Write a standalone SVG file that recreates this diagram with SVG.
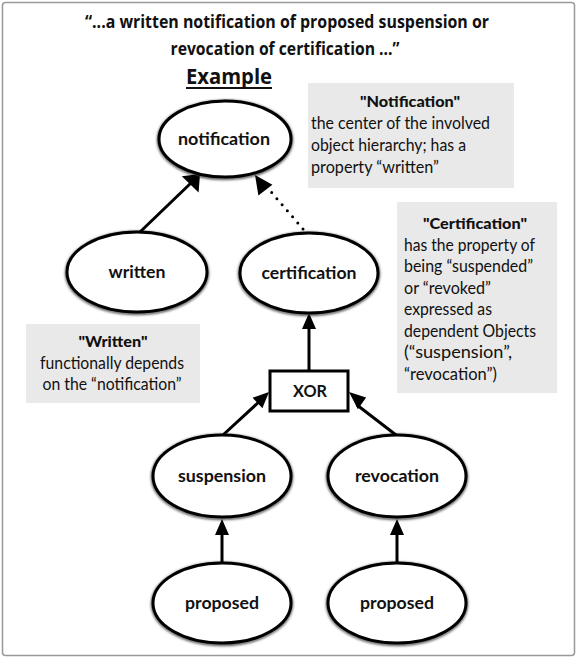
<svg xmlns="http://www.w3.org/2000/svg" width="577" height="658" viewBox="0 0 577 658">
  <style>
    .title { font-family: "Open Sans", "Liberation Sans", sans-serif; font-weight: 700; font-size: 18px; fill: #111; text-anchor: middle; }
    .node ellipse { fill: #fff; stroke: #000; stroke-width: 3; }
    .node rect { fill: #fff; stroke: #000; stroke-width: 3; }
    .label { font-family: "Lato", "Liberation Sans", sans-serif; font-weight: 700; font-size: 17px; fill: #111; text-anchor: middle; }
    .note rect { fill: #e9e9e9; }
    .note-head { font-family: "Lato", "Liberation Sans", sans-serif; font-weight: 900; font-size: 15px; fill: #111; text-anchor: middle; }
    .note-body { font-family: "Lato", "Liberation Sans", sans-serif; font-weight: 400; font-size: 16.5px; fill: #111; }
    .edge { stroke: #000; stroke-width: 3; fill: none; }
    .head { fill: #000; stroke: none; }
    .dotted { stroke-dasharray: 0 8; stroke-linecap: round; }
    .halo { fill: none; stroke: #bcd4ec; stroke-width: 6; }
  </style>
  <defs>
    <filter id="blur" x="-20%" y="-20%" width="140%" height="140%">
      <feGaussianBlur stdDeviation="1.6"/>
    </filter>
  </defs>

  <!-- page frame -->
  <rect x="2.5" y="2.5" width="572" height="653" rx="3" fill="#fff" stroke="#999" stroke-width="1.5"/>

  <!-- heading -->
  <text class="title" x="287" y="28" textLength="404" lengthAdjust="spacingAndGlyphs">“...a written notification of proposed suspension or</text>
  <text class="title" x="285" y="55" textLength="229" lengthAdjust="spacingAndGlyphs">revocation of certification ...”</text>
  <text class="title" x="229" y="84" style="font-size:21px" textLength="86" lengthAdjust="spacingAndGlyphs">Example</text>
  <line x1="186" y1="88" x2="272" y2="88" stroke="#111" stroke-width="2"/>

  <!-- explanatory notes -->
  <g id="note-notification" class="note">
    <rect x="308" y="83" width="206" height="105"/>
    <text class="note-head" x="410" y="107" textLength="100" lengthAdjust="spacingAndGlyphs">"Notification"</text>
    <text class="note-body" x="311" y="129" textLength="179" lengthAdjust="spacingAndGlyphs">the center of the involved</text>
    <text class="note-body" x="311" y="151" textLength="155" lengthAdjust="spacingAndGlyphs">object hierarchy; has a</text>
    <text class="note-body" x="311" y="173" textLength="128" lengthAdjust="spacingAndGlyphs">property “written”</text>
  </g>

  <g id="note-certification" class="note">
    <rect x="397" y="202" width="160" height="191"/>
    <text class="note-head" x="475" y="229" textLength="104" lengthAdjust="spacingAndGlyphs">"Certification"</text>
    <text class="note-body" x="404" y="250.5" textLength="131" lengthAdjust="spacingAndGlyphs">has the property of</text>
    <text class="note-body" x="404" y="272" textLength="129" lengthAdjust="spacingAndGlyphs">being “suspended”</text>
    <text class="note-body" x="404" y="293.5" textLength="87" lengthAdjust="spacingAndGlyphs">or “revoked”</text>
    <text class="note-body" x="404" y="315" textLength="88" lengthAdjust="spacingAndGlyphs">expressed as</text>
    <text class="note-body" x="404" y="336.5" textLength="132" lengthAdjust="spacingAndGlyphs">dependent Objects</text>
    <text class="note-body" x="404" y="358" textLength="108" lengthAdjust="spacingAndGlyphs">(“suspension”,</text>
    <text class="note-body" x="404" y="379.5" textLength="93" lengthAdjust="spacingAndGlyphs">“revocation”)</text>
  </g>

  <g id="note-written" class="note">
    <rect x="26" y="324" width="174" height="79"/>
    <text class="note-head" x="113" y="347" textLength="69" lengthAdjust="spacingAndGlyphs">"Written"</text>
    <text class="note-body" x="112" y="368.5" text-anchor="middle" textLength="144" lengthAdjust="spacingAndGlyphs">functionally depends</text>
    <text class="note-body" x="112" y="390" text-anchor="middle" textLength="139" lengthAdjust="spacingAndGlyphs">on the “notification”</text>
  </g>

  <!-- connectors: shaft plus a filled head whose tip touches the target -->
  <g id="connectors">
    <!-- written -> notification -->
    <path class="edge" d="M140,232 L192,182"/>
    <path class="head" d="M200,174 L198.6,192.5 L181.8,176.3 Z"/>
    <!-- certification ..> notification -->
    <path class="edge dotted" d="M303,229 L266,186"/>
    <path class="head" d="M255,175 L272.4,184.8 L258.4,195.4 Z"/>
    <!-- XOR -> certification -->
    <path class="edge" d="M309,371 L309,324"/>
    <path class="head" d="M309,313 L316,329 L302,329 Z"/>
    <!-- suspension -> XOR -->
    <path class="edge" d="M223,435 L261,400"/>
    <path class="head" d="M269,392 L262.4,408.3 L252.6,397.7 Z"/>
    <!-- revocation -> XOR -->
    <path class="edge" d="M396,435 L357,405"/>
    <path class="head" d="M349,392 L366.1,397.5 L357.9,409.3 Z"/>
    <!-- proposed -> suspension -->
    <path class="edge" d="M222,563 L222,530"/>
    <path class="head" d="M222,519 L229,535 L215,535 Z"/>
    <!-- proposed -> revocation -->
    <path class="edge" d="M397,563 L397,530"/>
    <path class="head" d="M397,519 L404,535 L390,535 Z"/>
  </g>

  <!-- nodes -->
  <g id="node-notification" class="node">
    <ellipse class="halo" cx="225" cy="140" rx="66" ry="38" filter="url(#blur)"/>
    <ellipse cx="225" cy="139" rx="66" ry="38"/>
    <text class="label" x="224" y="145" textLength="92" lengthAdjust="spacingAndGlyphs">notification</text>
  </g>
  <g id="node-written" class="node">
    <ellipse class="halo" cx="137" cy="273" rx="70" ry="40" filter="url(#blur)"/>
    <ellipse cx="137" cy="272" rx="70" ry="40"/>
    <text class="label" x="137" y="278" textLength="57" lengthAdjust="spacingAndGlyphs">written</text>
  </g>
  <g id="node-certification" class="node">
    <ellipse class="halo" cx="309" cy="274" rx="69" ry="40" filter="url(#blur)"/>
    <ellipse cx="309" cy="273" rx="69" ry="40"/>
    <text class="label" x="309" y="279" textLength="95" lengthAdjust="spacingAndGlyphs">certification</text>
  </g>
  <g id="node-xor" class="node">
    <rect x="270" y="371" width="78" height="40"/>
    <text class="label" x="310" y="397" textLength="34" lengthAdjust="spacingAndGlyphs">XOR</text>
  </g>
  <g id="node-suspension" class="node">
    <ellipse class="halo" cx="222" cy="477" rx="69" ry="41" filter="url(#blur)"/>
    <ellipse cx="222" cy="476" rx="69" ry="41"/>
    <text class="label" x="222" y="482" textLength="88" lengthAdjust="spacingAndGlyphs">suspension</text>
  </g>
  <g id="node-revocation" class="node">
    <ellipse class="halo" cx="397" cy="477" rx="69" ry="41" filter="url(#blur)"/>
    <ellipse cx="397" cy="476" rx="69" ry="41"/>
    <text class="label" x="397" y="482" textLength="84" lengthAdjust="spacingAndGlyphs">revocation</text>
  </g>
  <g id="node-proposed-1" class="node">
    <ellipse class="halo" cx="222" cy="604" rx="69" ry="40" filter="url(#blur)"/>
    <ellipse cx="222" cy="603" rx="69" ry="40"/>
    <text class="label" x="222" y="609" textLength="74" lengthAdjust="spacingAndGlyphs">proposed</text>
  </g>
  <g id="node-proposed-2" class="node">
    <ellipse class="halo" cx="397" cy="604" rx="69" ry="40" filter="url(#blur)"/>
    <ellipse cx="397" cy="603" rx="69" ry="40"/>
    <text class="label" x="397" y="609" textLength="74" lengthAdjust="spacingAndGlyphs">proposed</text>
  </g>
</svg>
